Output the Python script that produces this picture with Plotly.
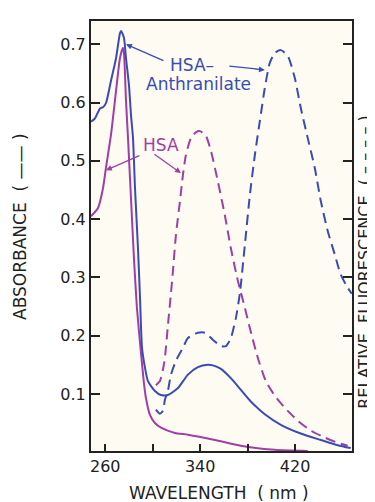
import plotly.graph_objects as go

# Absorbance, HSA-Anthranilate (solid blue)
abs_anth_wl = [248.0, 251.4, 255.6, 258.1, 260.6, 264.8, 269.1, 272.4, 273.3, 275.8, 277.5, 280.0,
               281.7, 283.4, 285.1, 287.6, 289.3, 291.0, 293.5, 296.0, 301.9, 307.0, 312.8, 321.3,
               329.7, 338.1, 346.5, 350.7, 357.5, 365.9, 374.3, 382.7, 394.5, 408.0, 424.8, 441.7,
               456.0, 466.9]
abs_anth = [0.567, 0.573, 0.590, 0.592, 0.599, 0.637, 0.676, 0.719, 0.723, 0.711, 0.676, 0.630,
            0.579, 0.539, 0.453, 0.350, 0.265, 0.179, 0.145, 0.122, 0.105, 0.098, 0.098, 0.110,
            0.133, 0.146, 0.150, 0.149, 0.143, 0.127, 0.107, 0.087, 0.065, 0.047, 0.032, 0.021,
            0.012, 0.007]

# Absorbance, HSA (solid purple)
abs_hsa_wl = [248.0, 253.9, 258.1, 260.6, 264.8, 269.1, 272.4, 274.9, 275.8, 277.5, 279.2, 281.7,
              284.2, 286.7, 290.1, 292.6, 294.3, 297.7, 301.9, 307.0, 318.7, 329.7, 352.4, 374.3,
              402.9, 430.7]
abs_hsa = [0.405, 0.419, 0.453, 0.488, 0.544, 0.620, 0.676, 0.694, 0.685, 0.603, 0.539, 0.436,
           0.333, 0.248, 0.171, 0.119, 0.093, 0.064, 0.050, 0.042, 0.033, 0.030, 0.021, 0.011,
           0.004, 0.002]

# Relative fluorescence, HSA (dashed purple)
fl_hsa_wl = [302.7, 306.1, 308.6, 310.3, 312.8, 315.4, 317.1, 319.6, 323.0, 325.5, 328.0, 332.2,
             336.4, 339.8, 344.8, 349.1, 354.9, 360.8, 365.9, 371.8, 377.7, 381.9, 388.6, 395.4,
             402.9, 411.4, 422.3, 433.3, 445.1, 456.0, 464.4]
fl_hsa = [0.115, 0.122, 0.141, 0.162, 0.217, 0.273, 0.312, 0.373, 0.431, 0.476, 0.510, 0.539,
          0.549, 0.551, 0.543, 0.517, 0.465, 0.407, 0.350, 0.294, 0.248, 0.213, 0.162, 0.122,
          0.097, 0.076, 0.054, 0.037, 0.025, 0.016, 0.011]

# Relative fluorescence, HSA-Anthranilate (dashed blue)
fl_anth_wl = [302.7, 306.1, 308.6, 310.3, 312.8, 315.4, 319.6, 325.5, 329.7, 338.1, 344.0, 350.7,
              357.5, 361.7, 365.9, 370.1, 373.5, 377.7, 381.9, 386.1, 390.3, 394.5, 398.7, 402.9,
              408.0, 413.9, 419.8, 424.8, 430.7, 436.6, 441.7, 447.6, 453.5, 458.5, 464.4, 467.8]
fl_anth = [0.073, 0.066, 0.071, 0.090, 0.105, 0.133, 0.157, 0.179, 0.196, 0.205, 0.205, 0.193,
           0.182, 0.182, 0.196, 0.230, 0.273, 0.356, 0.441, 0.510, 0.568, 0.625, 0.668, 0.685,
           0.690, 0.680, 0.642, 0.591, 0.539, 0.488, 0.431, 0.379, 0.339, 0.305, 0.282, 0.272]

x_tickvals = [260, 300, 340, 380, 420]
x_ticktext = ["260", "", "340", "", "420"]
y_tickvals = [0.1, 0.2, 0.3, 0.4, 0.5, 0.6, 0.7]
y_ticktext = ["0.1", "0.2", "0.3", "0.4", "0.5", "0.6", "0.7"]

BLUE = "#3a4cb4"
PURPLE = "#a03ea6"
INK = "#222"
FONT = "DejaVu Sans"

fig = go.Figure()
fig.add_trace(go.Scatter(x=abs_hsa_wl, y=abs_hsa, mode="lines",
                         line=dict(color=PURPLE, width=2, shape="spline", smoothing=0.6)))
fig.add_trace(go.Scatter(x=fl_hsa_wl, y=fl_hsa, mode="lines",
                         line=dict(color=PURPLE, width=2, dash="10px,6px", shape="spline", smoothing=0.6)))
fig.add_trace(go.Scatter(x=fl_anth_wl, y=fl_anth, mode="lines",
                         line=dict(color=BLUE, width=2, dash="10px,6px", shape="spline", smoothing=0.6)))
fig.add_trace(go.Scatter(x=abs_anth_wl, y=abs_anth, mode="lines",
                         line=dict(color=BLUE, width=2, shape="spline", smoothing=0.6)))

ann = []
# text labels
ann.append(dict(x=333.0, y=0.664, xref="x", yref="y", text="HSA\u2013", showarrow=False,
                font=dict(family=FONT, size=17, color=BLUE)))
ann.append(dict(x=338.9, y=0.632, xref="x", yref="y", text="Anthranilate", showarrow=False,
                font=dict(family=FONT, size=17, color=BLUE)))
ann.append(dict(x=307.4, y=0.527, xref="x", yref="y", text="HSA", showarrow=False,
                font=dict(family=FONT, size=17, color=PURPLE)))
# arrows
arrows = [
    (277.5, 0.700, 310.3, 0.671, BLUE),
    (394.5, 0.656, 363.4, 0.663, BLUE),
    (260.6, 0.484, 290.1, 0.510, PURPLE),
    (323.8, 0.479, 300.2, 0.513, PURPLE),
]
for tx, ty, sx, sy, c in arrows:
    ann.append(dict(x=tx, y=ty, ax=sx, ay=sy, xref="x", yref="y", axref="x", ayref="y",
                    text="", showarrow=True, arrowhead=2, arrowsize=0.9, arrowwidth=1.3,
                    arrowcolor=c))
# axis titles
ann.append(dict(x=-0.27, y=0.52, xref="paper", yref="paper", xanchor="center", yanchor="middle",
                text="ABSORBANCE  ( \u2014\u2014 )",
                textangle=-90, showarrow=False, font=dict(family=FONT, size=17, color=INK)))
ann.append(dict(x=1.05, y=0.44, xref="paper", yref="paper", xanchor="center", yanchor="middle",
                text="RELATIVE  FLUORESCENCE  ( \u2013 \u2013 \u2013 \u2013 )",
                textangle=-90, showarrow=False, font=dict(family=FONT, size=16, color=INK)))
ann.append(dict(x=0.49, y=-0.097, xref="paper", yref="paper", xanchor="center", yanchor="middle",
                text="WAVELENGTH  ( nm )",
                showarrow=False, font=dict(family=FONT, size=17, color=INK)))

fig.update_layout(
    width=375, height=502,
    margin=dict(l=83, r=31, t=13, b=59),
    paper_bgcolor="white",
    plot_bgcolor="#fdfbf2",
    showlegend=False,
    annotations=ann,
    font=dict(family=FONT, size=15, color=INK),
)
fig.update_xaxes(range=[248, 468], tickvals=x_tickvals, ticktext=x_ticktext,
                 ticks="inside", ticklen=7, tickwidth=2, tickcolor=INK,
                 showline=True, linewidth=2, linecolor=INK, mirror=True,
                 showgrid=False, zeroline=False,
                 tickfont=dict(family=FONT, size=16, color=INK))
fig.update_yaxes(range=[0.002, 0.74], tickvals=y_tickvals, ticktext=y_ticktext,
                 ticks="inside", ticklen=9, tickwidth=2, tickcolor=INK,
                 showline=True, linewidth=2, linecolor=INK, mirror="ticks",
                 showgrid=False, zeroline=False,
                 tickfont=dict(family=FONT, size=16, color=INK))

fig.write_html("out.html")
